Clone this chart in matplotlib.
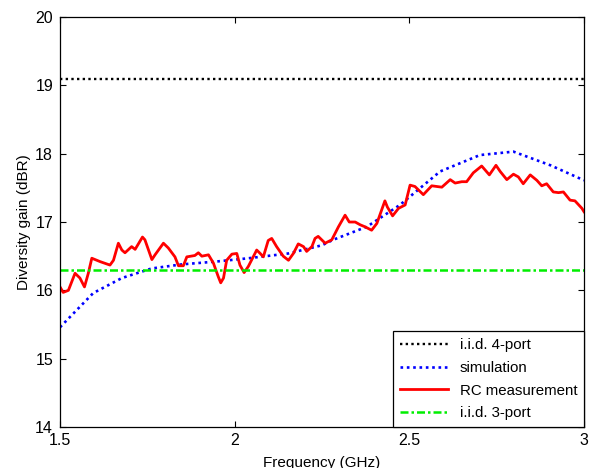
import numpy as np
import matplotlib
matplotlib.use("Agg")
import matplotlib.pyplot as plt

plt.rcParams['font.family'] = ['Liberation Sans', 'DejaVu Sans']

# Reference levels (dB)
iid_4port = 19.1
iid_3port = 16.3

# Simulated diversity gain
sim_freq = [1.500, 1.595, 1.677, 1.762, 1.848, 1.944, 2.040, 2.154, 2.250,
            2.282, 2.378, 2.473, 2.588, 2.702, 2.798, 2.904, 3.000]
sim_gain = [15.46, 15.96, 16.18, 16.32, 16.38, 16.42, 16.47, 16.54, 16.66,
            16.74, 16.93, 17.25, 17.74, 17.98, 18.03, 17.83, 17.61]

# Reverberation chamber measurement
rc_freq = [1.500, 1.509, 1.524, 1.543, 1.557, 1.570, 1.581, 1.591, 1.615, 1.643,
           1.653, 1.667, 1.677, 1.686, 1.705, 1.715, 1.736, 1.743, 1.763, 1.772,
           1.796, 1.810, 1.829, 1.839, 1.853, 1.863, 1.886, 1.896, 1.906, 1.925,
           1.939, 1.953, 1.960, 1.968, 1.977, 1.992, 2.006, 2.015, 2.027, 2.039,
           2.053, 2.063, 2.073, 2.082, 2.096, 2.106, 2.120, 2.139, 2.154, 2.168,
           2.182, 2.197, 2.206, 2.221, 2.230, 2.239, 2.259, 2.278, 2.297, 2.316,
           2.328, 2.345, 2.359, 2.373, 2.392, 2.407, 2.430, 2.437, 2.452, 2.469,
           2.488, 2.502, 2.516, 2.540, 2.564, 2.593, 2.617, 2.631, 2.650, 2.664,
           2.683, 2.707, 2.729, 2.748, 2.760, 2.779, 2.798, 2.812, 2.826, 2.846,
           2.865, 2.879, 2.893, 2.912, 2.927, 2.941, 2.960, 2.974, 2.994, 3.000]
rc_gain = [16.05, 15.97, 16.00, 16.25, 16.18, 16.05, 16.25, 16.47, 16.42, 16.37,
           16.44, 16.69, 16.59, 16.55, 16.64, 16.60, 16.78, 16.74, 16.45, 16.52,
           16.69, 16.62, 16.49, 16.36, 16.36, 16.49, 16.51, 16.55, 16.50, 16.52,
           16.40, 16.20, 16.11, 16.18, 16.44, 16.53, 16.54, 16.37, 16.26, 16.35,
           16.49, 16.59, 16.54, 16.49, 16.73, 16.76, 16.64, 16.50, 16.44, 16.54,
           16.68, 16.64, 16.57, 16.64, 16.76, 16.79, 16.69, 16.74, 16.93, 17.10,
           17.00, 17.00, 16.96, 16.93, 16.88, 16.98, 17.31, 17.22, 17.09, 17.20,
           17.25, 17.54, 17.52, 17.40, 17.53, 17.51, 17.62, 17.57, 17.59, 17.59,
           17.72, 17.82, 17.69, 17.83, 17.74, 17.62, 17.70, 17.66, 17.56, 17.69,
           17.61, 17.53, 17.56, 17.44, 17.43, 17.44, 17.32, 17.31, 17.20, 17.15]

xlim = (1.5, 3.0)

fig = plt.figure(figsize=(5.99, 4.68), dpi=100)
ax = fig.add_axes([0.1002, 0.0876, 0.8748, 0.876])

ax.plot(xlim, [iid_4port, iid_4port], color='black', lw=1.7,
        dashes=(1, 1.4), label='i.i.d. 4-port')
ax.plot(sim_freq, sim_gain, color='blue', lw=1.9,
        dashes=(1, 1.4), label='simulation')
ax.plot(rc_freq, rc_gain, color='red', lw=2.0, label='RC measurement')
ax.plot(xlim, [iid_3port, iid_3port], color='#00ee00', lw=1.8,
        dashes=(3.2, 1.2, 1, 1.2), label='i.i.d. 3-port')

ax.set_xlim(*xlim)
ax.set_ylim(14, 20)
ax.set_xticks([1.5, 2, 2.5, 3])
ax.set_xticklabels(['1.5', '2', '2.5', '3'])
ax.set_yticks(range(14, 21))
ax.tick_params(direction='in', length=4, width=0.8, top=True, right=True,
               labelsize=11.5)
ax.tick_params(axis='x', pad=4)
ax.tick_params(axis='y', pad=5)
for sp in ax.spines.values():
    sp.set_linewidth(0.9)

ax.set_xlabel('Frequency (GHz)', fontsize=11, labelpad=6)
ax.set_ylabel('Diversity gain (dBR)', fontsize=11, labelpad=3)

leg = ax.legend(loc='lower right', fontsize=10.8, fancybox=False,
                framealpha=1, edgecolor='black', borderaxespad=0,
                handlelength=3.2, labelspacing=0.58, borderpad=0.45)
leg.get_frame().set_linewidth(0.9)

fig.savefig('out.png', dpi=100)
